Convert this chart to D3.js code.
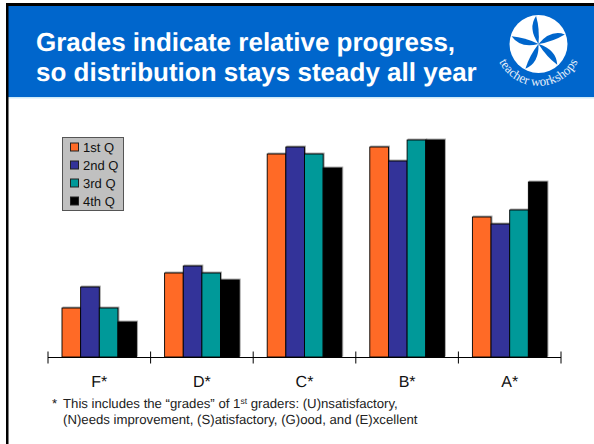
<!DOCTYPE html>
<html>
<head>
<meta charset="utf-8">
<script src="https://cdn.jsdelivr.net/npm/d3@7"></script>
<style>
  html, body { margin: 0; padding: 0; background: #fff; }
  svg { display: block; }
  text { font-family: "Liberation Sans", Arial, sans-serif; text-rendering: geometricPrecision; }
</style>
</head>
<body>
<svg id="chart" width="594" height="444"></svg>
<script>
// === Data === //
var grades = ['F*', 'D*', 'C*', 'B*', 'A*'];
var quarters = ['1st Q', '2nd Q', '3rd Q', '4th Q'];
var q1 = [7, 12, 29, 30, 20];
var q2 = [10, 13, 30, 28, 19];
var q3 = [7, 12, 29, 31, 21];
var q4 = [5, 11, 27, 31, 25];
var series = [q1, q2, q3, q4];
var colours = ['#ff6a26', '#333399', '#009999', '#000000'];
var titleLines = ['Grades indicate relative progress,', 'so distribution stays steady all year'];

// === Slide furniture === //
var svg = d3.select('#chart');

svg.append('rect').attr('x', 8).attr('y', 6).attr('width', 586).attr('height', 91).attr('fill', '#0066cc');
svg.append('rect').attr('x', 8).attr('y', 97).attr('width', 586).attr('height', 1.5).attr('fill', '#cfeaf8');
svg.append('rect').attr('x', 6).attr('y', 3).attr('width', 588).attr('height', 3).attr('fill', '#000');
svg.append('rect').attr('x', 6).attr('y', 3).attr('width', 2.5).attr('height', 441).attr('fill', '#000');

svg.selectAll('text.title')
	.data(titleLines)
	.enter().append('text')
	.attr('class', 'title')
	.attr('x', 36)
	.attr('y', function(d, i) { return 51 + i * 30; })
	.attr('fill', '#fff')
	.attr('font-size', 26)
	.attr('font-weight', 'bold')
	.text(function(d) { return d; });

// === Logo === //
var logo = svg.append('g').attr('transform', 'translate(538.5,44)');
logo.append('circle').attr('r', 29).attr('fill', '#fff');

function polar(r, deg) {
	var t = deg * Math.PI / 180;
	return (r * Math.cos(t)).toFixed(1) + ',' + (r * Math.sin(t)).toFixed(1);
}

var petalAngles = [-95, -20, 48, 118, 196];
logo.selectAll('path.petal')
	.data(petalAngles)
	.enter().append('path')
	.attr('class', 'petal')
	.attr('fill', '#0066cc')
	.attr('d', function(a) {
		return 'M0,0 Q' + polar(19, a - 30) + ' ' + polar(28, a) + ' Q' + polar(15, a + 10) + ' 0,0Z';
	});

logo.append('path').attr('id', 'logoArc').attr('fill', 'none')
	.attr('d', 'M-44,-2 A44,44 0 0 0 44,-2');
logo.append('text')
	.attr('fill', '#e4eef9')
	.attr('font-size', 13)
	.style('font-family', '"Liberation Serif", serif')
	.append('textPath')
	.attr('href', '#logoArc')
	.attr('startOffset', '50%')
	.attr('text-anchor', 'middle')
	.text('teacher workshops');

// === Scales === //
var x0 = d3.scaleBand().domain(grades).range([48, 561]);
var x1 = d3.scaleBand().domain(d3.range(quarters.length)).range([14, x0.bandwidth() - 14]);
var y = d3.scaleLinear().domain([0, 31]).range([357, 140]);

// === Bars === //
var groups = svg.selectAll('g.grade')
	.data(grades)
	.enter().append('g')
	.attr('class', 'grade')
	.attr('transform', function(d) { return 'translate(' + x0(d) + ',0)'; });

groups.selectAll('rect')
	.data(function(d, i) {
		return series.map(function(s, k) { return { k: k, value: s[i] }; });
	})
	.enter().append('rect')
	.attr('x', function(d) { return x1(d.k); })
	.attr('y', function(d) { return y(d.value); })
	.attr('width', x1.bandwidth())
	.attr('height', function(d) { return y(0) - y(d.value); })
	.attr('fill', function(d) { return colours[d.k]; })
	.attr('stroke', '#000')
	.attr('stroke-width', 0.9)
	.style('filter', 'drop-shadow(1px -0.5px 0.5px rgba(0,0,0,0.35))');

// === Axis === //
var axis = svg.append('g').attr('transform', 'translate(0,357.5)');
axis.append('line').attr('x1', 48).attr('x2', 561).attr('stroke', '#000');
axis.selectAll('line.tick')
	.data(x0.domain().map(function(d) { return x0(d); }).concat([561]))
	.enter().append('line')
	.attr('class', 'tick')
	.attr('x1', function(d) { return d; })
	.attr('x2', function(d) { return d; })
	.attr('y1', -6)
	.attr('y2', 6)
	.attr('stroke', '#000');
axis.selectAll('text')
	.data(grades)
	.enter().append('text')
	.attr('x', function(d) { return x0(d) + x0.bandwidth() / 2; })
	.attr('y', 29.5)
	.attr('text-anchor', 'middle')
	.attr('font-size', 16)
	.attr('fill', '#111')
	.text(function(d) { return d; });

// === Legend === //
var legend = svg.append('g').attr('transform', 'translate(62,137)');
legend.append('rect')
	.attr('x', 0.5).attr('y', 0.5).attr('width', 61).attr('height', 73)
	.attr('fill', '#c0c0c0').attr('stroke', '#555');

var rows = legend.selectAll('g.row')
	.data(quarters)
	.enter().append('g')
	.attr('class', 'row')
	.attr('transform', function(d, i) { return 'translate(0,' + (10 + i * 18) + ')'; });

rows.append('rect')
	.attr('x', 8.5).attr('y', -4).attr('width', 8).attr('height', 8)
	.attr('fill', function(d, i) { return colours[i]; })
	.attr('stroke', '#222');
rows.append('text')
	.attr('x', 21).attr('y', 4.5)
	.attr('font-size', 13)
	.attr('fill', '#111')
	.text(function(d) { return d; });

// === Footnote === //
var note = svg.append('g').attr('font-size', 13.2).attr('fill', '#222');
note.append('text').attr('x', 52).attr('y', 408).text('*');
var l1 = note.append('text').attr('x', 63).attr('y', 408);
l1.append('tspan').text('This includes the \u201cgrades\u201d of 1');
l1.append('tspan').attr('font-size', 8.5).attr('dy', -4).text('st');
l1.append('tspan').attr('dy', 4).text(' graders: (U)nsatisfactory,');
note.append('text').attr('x', 63).attr('y', 424).text('(N)eeds improvement, (S)atisfactory, (G)ood, and (E)xcellent');
</script>
</body>
</html>
